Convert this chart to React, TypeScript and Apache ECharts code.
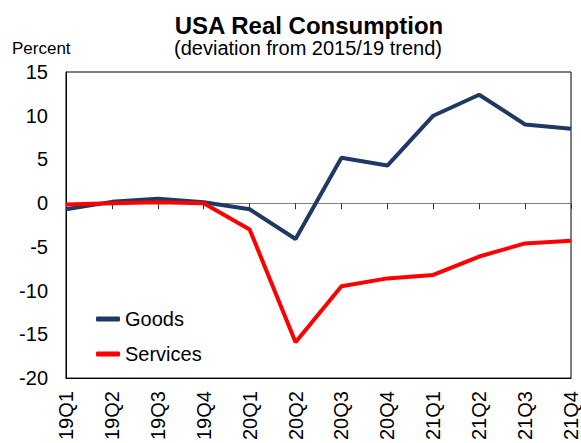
import React, { useEffect, useRef } from "react";
import * as echarts from "echarts";

const categories = ["19Q1", "19Q2", "19Q3", "19Q4", "20Q1", "20Q2", "20Q3", "20Q4", "21Q1", "21Q2", "21Q3", "21Q4"];
const goods = [-0.7, 0.15, 0.5, 0.1, -0.7, -4.1, 5.2, 4.3, 10.0, 12.4, 9.0, 8.5];
const services = [-0.15, 0.0, 0.1, 0.0, -3.0, -15.9, -9.5, -8.6, -8.2, -6.1, -4.6, -4.3];
const yMin = -20;
const yMax = 15;
const yStep = 5;
const titleText = "USA Real Consumption";
const subtitleText = "(deviation from 2015/19 trend)";
const unitText = "Percent";

const FONT = "'Liberation Sans', Arial, sans-serif";

export default function App() {
  const ref = useRef<HTMLDivElement>(null);
  useEffect(() => {
    document.body.style.margin = "0";
    const chart = echarts.init(ref.current!, null, { renderer: "svg" });
    chart.setOption({
      animation: false,
      backgroundColor: "#ffffff",
      textStyle: { fontFamily: FONT },
      graphic: [
        {
          type: "text",
          x: 309,
          y: 25,
          style: {
            text: titleText,
            fontFamily: FONT,
            fontSize: 24,
            fontWeight: "bold",
            fill: "#000",
            align: "center",
            verticalAlign: "middle",
          },
        },
        {
          type: "text",
          x: 308,
          y: 48,
          style: {
            text: subtitleText,
            fontFamily: FONT,
            fontSize: 20,
            fill: "#000",
            align: "center",
            verticalAlign: "middle",
          },
        },
        {
          type: "text",
          x: 12,
          y: 48,
          style: {
            text: unitText,
            fontFamily: FONT,
            fontSize: 17,
            fill: "#000",
            align: "left",
            verticalAlign: "middle",
          },
        },
      ],
      legend: {
        orient: "vertical",
        left: 91,
        top: 303,
        itemWidth: 24,
        itemHeight: 5,
        itemGap: 13,
        icon: "roundRect",
        textStyle: { fontFamily: FONT, fontSize: 20, lineHeight: 22, color: "#000" },
        data: ["Goods", "Services"],
      },
      grid: {
        left: 66,
        right: 10,
        top: 72,
        bottom: 63,
        show: true,
        borderColor: "#000",
        borderWidth: 1,
        containLabel: false,
      },
      xAxis: [
        {
          type: "category",
          data: categories,
          boundaryGap: false,
          position: "bottom",
          axisLine: { onZero: false, show: true, lineStyle: { color: "#000" } },
          axisTick: { show: false },
          axisLabel: { rotate: 90, fontSize: 20, color: "#000", margin: 13, fontFamily: FONT },
          splitLine: { show: false },
        },
        {
          type: "category",
          data: categories,
          boundaryGap: false,
          position: "bottom",
          axisLine: { onZero: true, show: true, lineStyle: { color: "#7f7f7f", width: 1.2 } },
          axisTick: { show: true, length: 6, lineStyle: { color: "#333" } },
          axisLabel: { show: false },
          splitLine: { show: false },
        },
      ],
      yAxis: {
        type: "value",
        min: yMin,
        max: yMax,
        interval: yStep,
        axisLine: { show: true, lineStyle: { color: "#000" } },
        axisTick: { show: false },
        axisLabel: { fontSize: 20, color: "#000", margin: 18, fontFamily: FONT },
        splitLine: { show: false },
      },
      series: [
        {
          name: "Goods",
          type: "line",
          data: goods,
          xAxisIndex: 0,
          symbol: "none",
          lineStyle: { color: "#1F3864", width: 4 },
          itemStyle: { color: "#1F3864" },
        },
        {
          name: "Services",
          type: "line",
          data: services,
          xAxisIndex: 0,
          symbol: "none",
          lineStyle: { color: "#FF0000", width: 4 },
          itemStyle: { color: "#FF0000" },
        },
      ],
    });
    return () => chart.dispose();
  }, []);
  return <div ref={ref} style={{ width: 581, height: 443 }} />;
}
